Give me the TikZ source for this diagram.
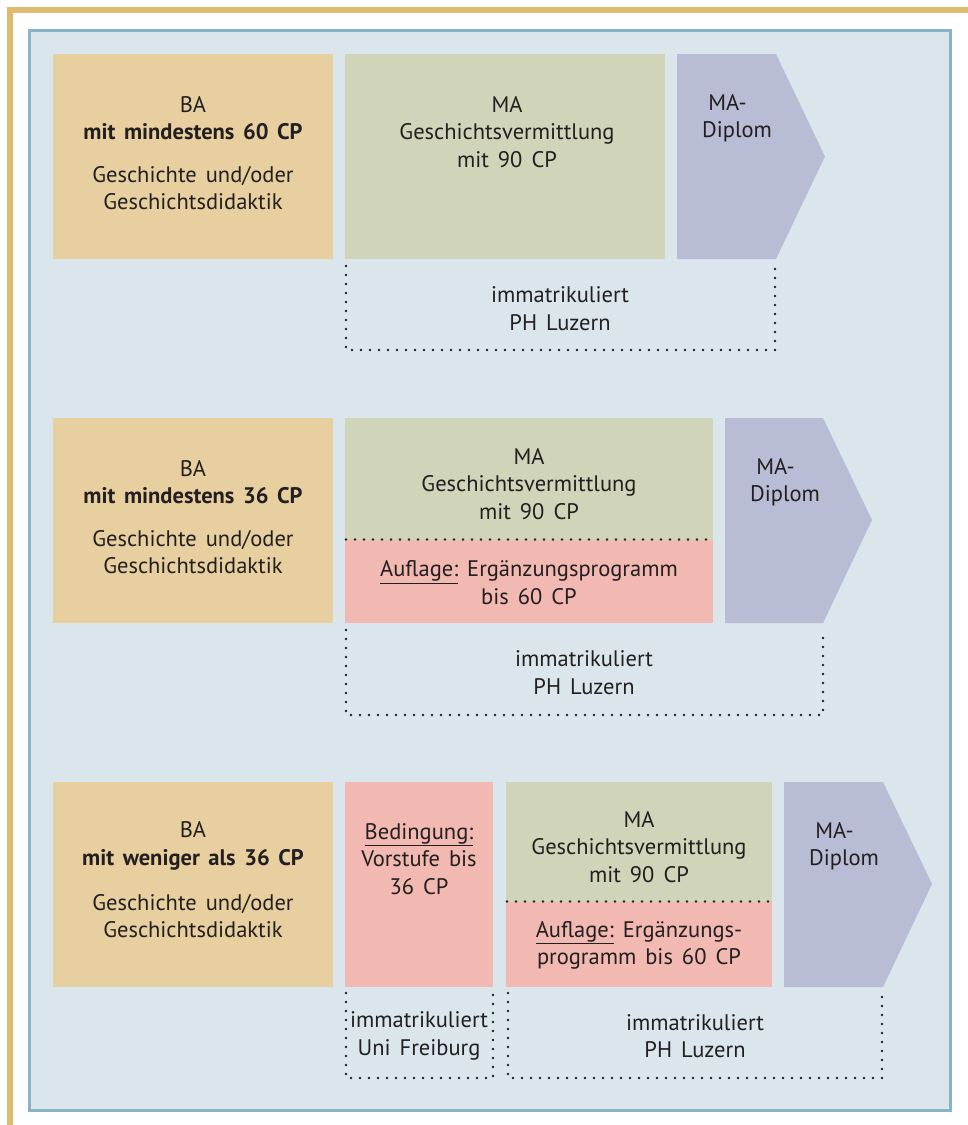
\documentclass[tikz,border=0pt]{standalone}
\usepackage{fontspec}
\setmainfont{PT Sans}[WordSpace=1.5]
\definecolor{goldc}{HTML}{DFBB70}
\definecolor{framec}{HTML}{89B3C6}
\definecolor{bgc}{HTML}{DAE6EC}
\definecolor{bac}{HTML}{E8CF9F}
\definecolor{mac}{HTML}{D0D4B8}
\definecolor{pinkc}{HTML}{F1B9B1}
\definecolor{dipc}{HTML}{B8BCD5}
\definecolor{txtc}{HTML}{231F20}
\tikzset{
  boxnode/.style={draw=none, inner sep=0pt, outer sep=0pt, anchor=north west},
  txt/.style={align=center, text=txtc, font=\fontsize{22.5}{27.5}\selectfont, inner sep=0pt},
  dotline/.style={draw=txtc, line width=2.6pt, dash pattern=on 0pt off 9pt, line cap=round},
  diplom/.style={fill=dipc, draw=none},
}
\begin{document}
\begin{tikzpicture}[x=1pt,y=-1pt]
\useasboundingbox (0,0) rectangle (968,1125);
% outer gold lines
\draw[goldc, line width=6pt] (968,10) -- (10,10) -- (10,1125);
% inner frame
\draw[framec, fill=bgc, line width=3.2pt] (29.6,30.6) rectangle (950.4,1110.4);

% ---------- Row 1 ----------
\node[boxnode, fill=bac, minimum width=280pt, minimum height=205pt] (ba1) at (53,54) {};
\node[boxnode, fill=mac, minimum width=320pt, minimum height=205pt] (ma1) at (345,54) {};
\fill[diplom] (677,54) -- (776,54) -- (825,156.5) -- (776,259) -- (677,259) -- cycle;
\node[txt] (ba1a) at (193,118) {BA\\\textbf{mit mindestens 60 CP}};
\node[txt] (ba1b) at (193,188) {Geschichte und/oder\\Geschichtsdidaktik};
\node[txt] (ma1a) at (507,132) {MA\\Geschichtsvermittlung\\mit 90 CP};
\node[txt] (dip1) at (737,118) {MA-\hspace*{19pt}\\Diplom};
\draw[dotline] (346,266) -- (346,350) -- (775,350) -- (775,266);
\node[txt] (im1) at (560,308.5) {immatrikuliert\\PH Luzern};

% ---------- Row 2 ----------
\node[boxnode, fill=bac, minimum width=280pt, minimum height=205pt] (ba2) at (53,418) {};
\node[boxnode, fill=mac, minimum width=368pt, minimum height=122pt] (ma2) at (345,418) {};
\node[boxnode, fill=pinkc, minimum width=368pt, minimum height=83pt] (au2) at (345,540) {};
\fill[diplom] (725,418) -- (823,418) -- (872,520) -- (823,623) -- (725,623) -- cycle;
\draw[dotline] (ma2.south west) ++(1,-0.5) -- ([yshift=0.5pt]ma2.south east);
\node[txt] (ba2a) at (193,482) {BA\\\textbf{mit mindestens 36 CP}};
\node[txt] (ba2b) at (193,552) {Geschichte und/oder\\Geschichtsdidaktik};
\node[txt] (ma2a) at (529,484) {MA\\Geschichtsvermittlung\\mit 90 CP};
\node[txt] (au2a) at (529,582.5) {\underline{Auflage:} Ergänzungsprogramm\\bis 60 CP};
\node[txt] (dip2) at (785,482) {MA-\hspace*{19pt}\\Diplom};
\draw[dotline] (346,630) -- (346,715) -- (823,715) -- (823,630);
\node[txt] (im2) at (584,672.5) {immatrikuliert\\PH Luzern};

% ---------- Row 3 ----------
\node[boxnode, fill=bac, minimum width=280pt, minimum height=205pt] (ba3) at (53,782) {};
\node[boxnode, fill=pinkc, minimum width=148pt, minimum height=205pt] (bed3) at (345,782) {};
\node[boxnode, fill=mac, minimum width=266pt, minimum height=120pt] (ma3) at (506,782) {};
\node[boxnode, fill=pinkc, minimum width=266pt, minimum height=85pt] (au3) at (506,902) {};
\fill[diplom] (784,782) -- (883,782) -- (932,884) -- (883,987) -- (784,987) -- cycle;
\draw[dotline] (ma3.south west) ++(1,-0.5) -- ([yshift=0.5pt]ma3.south east);
\node[txt] (ba3a) at (193,846) {BA\\\textbf{mit weniger als 36 CP}};
\node[txt] (ba3b) at (193,916) {Geschichte und/oder\\Geschichtsdidaktik};
\node[txt] (bed3a) at (419,859) {\underline{Bedingung:}\\Vorstufe bis\\36 CP};
\node[txt] (ma3a) at (639,847) {MA\\Geschichtsvermittlung\\mit 90 CP};
\node[txt] (au3a) at (639,945.5) {\underline{Auflage:} Ergänzungs-\\programm bis 60 CP};
\node[txt] (dip3) at (844,846) {MA-\hspace*{19pt}\\Diplom};
\draw[dotline] (346,993) -- (346,1078) -- (493,1078) -- (493,993);
\draw[dotline] (508,993) -- (508,1078) -- (882,1078) -- (882,993);
\node[txt] (im3a) at (419,1036) {immatrikuliert\\Uni Freiburg};
\node[txt] (im3b) at (695,1036) {immatrikuliert\\PH Luzern};
\end{tikzpicture}
\end{document}
